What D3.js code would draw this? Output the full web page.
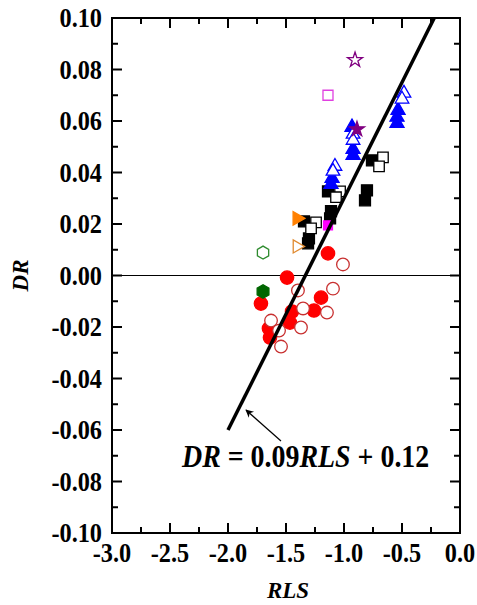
<!DOCTYPE html>
<html>
<head>
<meta charset="utf-8">
<script src="https://cdn.jsdelivr.net/npm/d3@7/dist/d3.min.js"></script>
<style>
  html, body { margin: 0; padding: 0; background: #fff; }
  svg { display: block; }
</style>
</head>
<body>
<svg id="chart" width="477" height="605"></svg>
<script>
// ---- data: [RLS, DR] pairs per group ----
const redFilled = [
  [-1.716, -0.0109], [-1.491, -0.0008], [-1.138, 0.0086], [-1.198, -0.0086],
  [-1.259, -0.0136], [-1.448, -0.0140], [-1.466, -0.0183], [-1.647, -0.0206],
  [-1.638, -0.0241]
];
const redOpen = [
  [-1.009, 0.0043], [-1.397, -0.0058], [-1.095, -0.0051], [-1.147, -0.0144],
  [-1.353, -0.0128], [-1.371, -0.0202], [-1.629, -0.0175], [-1.560, -0.0214],
  [-1.543, -0.0276]
];
const blackFilled = [
  [-0.759, 0.0447], [-0.802, 0.0331], [-0.819, 0.0292], [-1.138, 0.0327],
  [-1.112, 0.0250], [-1.120, 0.0222], [-1.345, 0.0210], [-1.302, 0.0144],
  [-1.310, 0.0125]
];
const blackOpen = [
  [-0.664, 0.0459], [-0.698, 0.0424], [-1.034, 0.0327], [-1.069, 0.0304],
  [-1.241, 0.0206], [-1.284, 0.0183]
];
const blueFilled = [
  [-0.534, 0.0642], [-0.543, 0.0615], [-0.543, 0.0591], [-0.931, 0.0576],
  [-0.922, 0.0490], [-0.922, 0.0467], [-1.103, 0.0377], [-1.112, 0.0354]
];
const blueOpen = [
  [-0.483, 0.0708], [-0.500, 0.0685], [-0.922, 0.0549], [-0.922, 0.0525],
  [-1.078, 0.0424], [-1.095, 0.0405]
];
const orangeFilled = [[-1.405, 0.0222]];
const orangeOpen = [[-1.405, 0.0113]];
const greenFilled = [[-1.698, -0.0062]];
const greenOpen = [[-1.698, 0.0089]];
const magentaFilled = [[-1.138, 0.0195]];
const magentaOpen = [[-1.138, 0.0700]];
const purpleFilled = [[-0.888, 0.0568]];
const purpleOpen = [[-0.905, 0.0837]];

// regression DR = 0.09 RLS + 0.12
const fitSlope = 0.09, fitIntercept = 0.12;
const fitRange = [-2.0, (0.10 - 0.12) / 0.09];

const xMajor = [-3.0, -2.5, -2.0, -1.5, -1.0, -0.5, 0.0];
const xMinor = [-2.75, -2.25, -1.75, -1.25, -0.75, -0.25];
const yMajor = [-0.10, -0.08, -0.06, -0.04, -0.02, 0.00, 0.02, 0.04, 0.06, 0.08, 0.10];
const yMinor = [-0.09, -0.07, -0.05, -0.03, -0.01, 0.01, 0.03, 0.05, 0.07, 0.09];

const FONT = "'Times New Roman', 'Liberation Serif', 'DejaVu Serif', serif";
const SQUEEZE = 0.9; // slightly condensed lettering

// ---- layout ----
const svg = d3.select("#chart");
const L = 112, R = 460, T = 18, B = 533;
const x = d3.scaleLinear().domain([-3, 0]).range([L, R]);
const y = d3.scaleLinear().domain([-0.1, 0.1]).range([B, T]);

// zero reference line
svg.append("line")
  .attr("x1", L).attr("x2", R).attr("y1", y(0)).attr("y2", y(0))
  .attr("stroke", "#000").attr("stroke-width", 1);

// ---- markers ----
const hexagon = {
  draw(ctx, size) {
    const r = Math.sqrt(size / (1.5 * Math.sqrt(3)));
    for (let i = 0; i < 6; i++) {
      const a = Math.PI / 6 + i * Math.PI / 3;
      const px = r * Math.cos(a), py = r * Math.sin(a);
      if (i === 0) ctx.moveTo(px, py); else ctx.lineTo(px, py);
    }
    ctx.closePath();
  }
};

function plot(data, type, size, fill, stroke, rot = 0, sw = 1.3) {
  svg.append("g").selectAll("path").data(data).join("path")
    .attr("d", d3.symbol().type(type).size(size))
    .attr("transform", d => `translate(${x(d[0])},${y(d[1])}) rotate(${rot})`)
    .attr("fill", fill).attr("stroke", stroke).attr("stroke-width", sw);
}

plot(redFilled, d3.symbolCircle, 140, "#ff0000", "#ff0000");
plot(redOpen, d3.symbolCircle, 125, "#ffffff", "#c83030");
plot(blackFilled, d3.symbolSquare, 120, "#000000", "#000000");
plot(blackOpen, d3.symbolSquare, 110, "#ffffff", "#000000");
plot(blueFilled, d3.symbolTriangle, 85, "#0000ff", "#0000ff");
plot(blueOpen, d3.symbolTriangle, 80, "#ffffff", "#0000ff");
plot(orangeFilled, d3.symbolTriangle, 80, "#ff8000", "#ff8000", 90);
plot(orangeOpen, d3.symbolTriangle, 75, "#ffffff", "#e08a30", 90);
plot(greenFilled, hexagon, 120, "#006600", "#006600");
plot(greenOpen, hexagon, 110, "#ffffff", "#2e8b2e");
plot(magentaFilled, d3.symbolSquare, 80, "#ff00ff", "#ff00ff");
plot(magentaOpen, d3.symbolSquare, 100, "#ffffff", "#e040e0");
plot(purpleFilled, d3.symbolStar, 70, "#800080", "#800080");
plot(purpleOpen, d3.symbolStar, 70, "#ffffff", "#800080");

// ---- fit line ----
svg.append("line")
  .attr("x1", x(fitRange[0])).attr("y1", y(fitSlope * fitRange[0] + fitIntercept))
  .attr("x2", x(fitRange[1])).attr("y2", y(fitSlope * fitRange[1] + fitIntercept))
  .attr("stroke", "#000").attr("stroke-width", 3.5);

// ---- frame and ticks ----
const gAxis = svg.append("g");
gAxis.append("rect").attr("x", L).attr("y", T).attr("width", R - L).attr("height", B - T)
  .attr("fill", "none").attr("stroke", "#000").attr("stroke-width", 2);

function ticks(vals, len) {
  vals.forEach(v => {
    gAxis.append("line").attr("x1", x(v)).attr("x2", x(v)).attr("y1", B).attr("y2", B - len)
      .attr("stroke", "#000").attr("stroke-width", 2);
    gAxis.append("line").attr("x1", x(v)).attr("x2", x(v)).attr("y1", T).attr("y2", T + len)
      .attr("stroke", "#000").attr("stroke-width", 2);
  });
}
function yticks(vals, len) {
  vals.forEach(v => {
    gAxis.append("line").attr("x1", L).attr("x2", L + len).attr("y1", y(v)).attr("y2", y(v))
      .attr("stroke", "#000").attr("stroke-width", 2);
    gAxis.append("line").attr("x1", R).attr("x2", R - len).attr("y1", y(v)).attr("y2", y(v))
      .attr("stroke", "#000").attr("stroke-width", 2);
  });
}
ticks(xMajor, 10); ticks(xMinor, 6);
yticks(yMajor, 10); yticks(yMinor, 6);

const hy = s => s.replace("\u2212", "-");

function label(sel) {
  return sel.attr("font-family", FONT).attr("font-weight", "bold").attr("fill", "#000");
}

// tick labels
label(gAxis.selectAll(".xl").data(xMajor).join("text"))
  .attr("transform", d => `translate(${x(d)},562) scale(${SQUEEZE},1)`)
  .attr("text-anchor", "middle")
  .attr("font-size", 27).text(d => hy(d3.format(".1f")(d)));
label(gAxis.selectAll(".yl").data(yMajor).join("text"))
  .attr("transform", d => `translate(102,${y(d) + 9}) scale(${SQUEEZE},1)`)
  .attr("text-anchor", "end")
  .attr("font-size", 27).text(d => hy(d3.format(".2f")(d)));

// axis titles
label(svg.append("text")).attr("x", 288).attr("y", 598).attr("text-anchor", "middle")
  .attr("font-size", 23).attr("font-style", "italic").text("RLS");
label(svg.append("text")).attr("transform", `translate(28,${(T + B) / 2}) rotate(-90)`)
  .attr("text-anchor", "middle").attr("font-size", 23).attr("font-style", "italic").text("DR");

// ---- equation annotation ----
const defs = svg.append("defs");
defs.append("marker").attr("id", "head").attr("viewBox", "0 0 10 10")
  .attr("refX", 9).attr("refY", 5).attr("markerWidth", 10).attr("markerHeight", 8)
  .attr("markerUnits", "userSpaceOnUse").attr("orient", "auto")
  .append("path").attr("d", "M0,0 L10,5 L0,10 L3,5 Z").attr("fill", "#000");
svg.append("line").attr("x1", 281).attr("y1", 441).attr("x2", 246).attr("y2", 410)
  .attr("stroke", "#000").attr("stroke-width", 1.2).attr("marker-end", "url(#head)");

const eq = label(svg.append("text"))
  .attr("transform", `translate(182,467) scale(${SQUEEZE},1)`).attr("font-size", 31);
eq.append("tspan").attr("font-style", "italic").text("DR");
eq.append("tspan").text(" = 0.09");
eq.append("tspan").attr("font-style", "italic").text("RLS");
eq.append("tspan").text(" + 0.12");
</script>
</body>
</html>
